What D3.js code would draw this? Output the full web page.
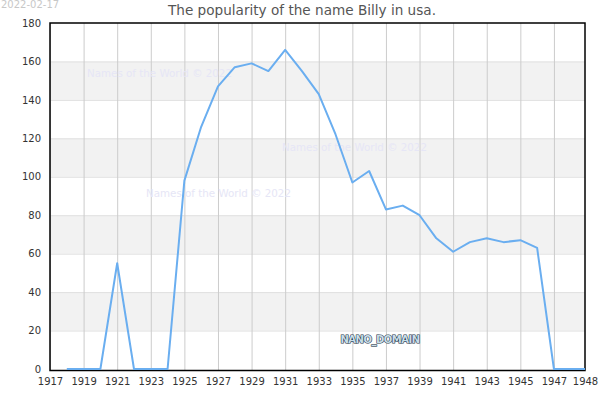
<!DOCTYPE html>
<html>
<head>
<meta charset="utf-8">
<script src="https://cdn.jsdelivr.net/npm/d3@7"></script>
<style>
  body { margin: 0; background: #fff; }
  text { font-family: "DejaVu Sans", sans-serif; }
</style>
</head>
<body>
<svg id="chart" width="600" height="400"></svg>
<script>
// data
var years = [1918, 1919, 1920, 1921, 1922, 1923, 1924, 1925, 1926, 1927, 1928, 1929, 1930, 1931, 1932,
  1933, 1934, 1935, 1936, 1937, 1938, 1939, 1940, 1941, 1942, 1943, 1944, 1945, 1946, 1947, 1948, 1949];
var counts = [0, 0, 0, 55, 0, 0, 0, 98, 126, 147, 157, 159, 155, 166, 155,
  143, 122, 97, 103, 83, 85, 80, 68, 61, 66, 68, 66, 67, 63, 0, 0, 0];
var xTicks = [1917, 1919, 1921, 1923, 1925, 1927, 1929, 1931, 1933, 1935, 1937, 1939, 1941, 1943, 1945, 1947];
var xEndLabel = "1948";
var yTicks = [0, 20, 40, 60, 80, 100, 120, 140, 160, 180];
var bandStarts = [20, 60, 100, 140];
var titleText = "The popularity of the name Billy in usa.";
var dateText = "2022-02-17";
var watermark = "Names of the World \u00a9 2022";

var mLeft = 50, mRight = 585, mTop = 23, mBottom = 370.5;
var xMax = 1948.85;

var svg = d3.select("#chart");

var xScale = d3.scaleLinear()
  .domain([1917, xMax])
  .range([mLeft, mRight]);

var yScale = d3.scaleLinear()
  .domain([0, 180])
  .range([mBottom - 1.5, mTop]);

svg.append("clipPath")
  .attr("id", "plotClip")
  .append("rect")
  .attr("x", mLeft)
  .attr("y", mTop - 3)
  .attr("width", mRight - mLeft)
  .attr("height", mBottom - mTop + 6)

// grey bands
svg.selectAll(".band")
  .data(bandStarts)
  .join("rect")
  .attr("class", "band")
  .attr("x", mLeft)
  .attr("width", mRight - mLeft)
  .attr("y", d => yScale(d + 20))
  .attr("height", d => yScale(d) - yScale(d + 20))
  .attr("fill", "#f2f2f2")

// horizontal grid
svg.append("g")
  .attr("transform", "translate(" + mLeft + ",0)")
  .call(d3.axisLeft(yScale).tickValues(yTicks.slice(1, -1)).tickSize(-(mRight - mLeft)).tickFormat(""))
  .call(g => g.select(".domain").remove())
  .call(g => g.selectAll("line").attr("stroke", "#e0e0e0"))

// vertical grid
svg.append("g")
  .attr("transform", "translate(0," + mBottom + ")")
  .call(d3.axisBottom(xScale).tickValues(xTicks).tickSize(-(mBottom - mTop)).tickFormat(""))
  .call(g => g.select(".domain").remove())
  .call(g => g.selectAll("line").attr("stroke", "#cccccc"))

// watermarks
var marks = [[87, 77], [282, 151], [146, 197]];
svg.selectAll(".wm")
  .data(marks)
  .join("text")
  .attr("class", "wm")
  .attr("x", d => d[0])
  .attr("y", d => d[1])
  .attr("fill", "#e6e6f6")
  .style("font-size", "10.3px")
  .text(watermark)

// frame
svg.append("rect")
  .attr("x", mLeft)
  .attr("y", mTop)
  .attr("width", mRight - mLeft)
  .attr("height", mBottom - mTop)
  .attr("fill", "none")
  .attr("stroke", "#000")
  .attr("stroke-width", 1.5)

// line
var line = d3.line()
  .x((d, i) => xScale(years[i]))
  .y(d => yScale(d));

svg.append("path")
  .datum(counts)
  .attr("clip-path", "url(#plotClip)")
  .attr("d", line)
  .attr("fill", "none")
  .attr("stroke", "#6aaef0")
  .attr("stroke-width", 2)
  .attr("stroke-linejoin", "round")

// y labels
svg.append("g")
  .attr("transform", "translate(" + mLeft + ",0)")
  .call(d3.axisLeft(yScale).tickValues(yTicks).tickSize(0).tickPadding(9))
  .call(g => g.select(".domain").remove())
  .call(g => g.selectAll("text").attr("fill", "#333").style("font-size", "10px").style("font-family", "DejaVu Sans"))

// x labels (last label sits on the right edge)
svg.append("g")
  .attr("transform", "translate(0," + mBottom + ")")
  .call(d3.axisBottom(xScale).tickValues(xTicks.concat([xMax])).tickSize(0).tickPadding(7)
    .tickFormat(d => d === xMax ? xEndLabel : d3.format("d")(d)))
  .call(g => g.select(".domain").remove())
  .call(g => g.selectAll("text").attr("fill", "#333").style("font-size", "10px").style("font-family", "DejaVu Sans"))

// title
svg.append("text")
  .attr("x", 302)
  .attr("y", 14.5)
  .attr("text-anchor", "middle")
  .attr("fill", "#555")
  .style("font-size", "13.6px")
  .text(titleText)

svg.append("text")
  .attr("x", 1)
  .attr("y", 8)
  .attr("fill", "#c8c8c8")
  .style("font-size", "10px")
  .text(dateText)

svg.append("text")
  .attr("x", 380)
  .attr("y", 343)
  .attr("text-anchor", "middle")
  .attr("fill", "#c9dde8")
  .attr("stroke", "#1f3a4a")
  .attr("stroke-width", 1.2)
  .attr("paint-order", "stroke")
  .style("font-size", "10px")
  .style("font-weight", "bold")
  .style("letter-spacing", "-0.5px")
  .text("NANO_DOMAIN")
</script>
</body>
</html>
